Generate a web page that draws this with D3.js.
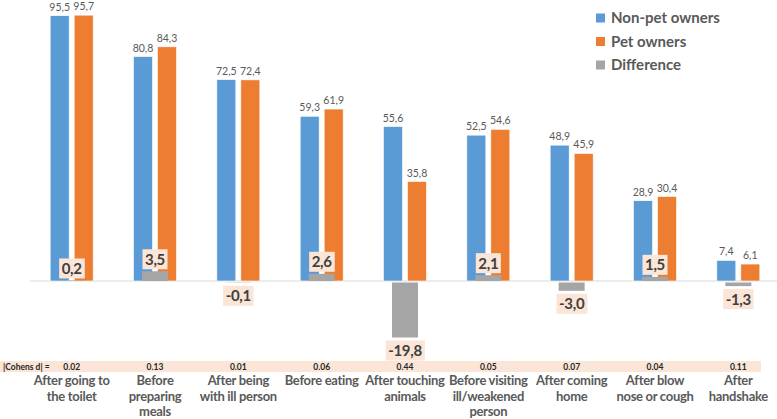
<!DOCTYPE html>
<html>
<head>
<meta charset="utf-8">
<script src="https://cdn.jsdelivr.net/npm/d3@7"></script>
<style>
  body { margin: 0; background: #fff; }
  svg { display: block; }
</style>
</head>
<body>
<svg width="777" height="419"></svg>
<script>
var categories = [
    ["After going to", "the toilet"],
    ["Before", "preparing", "meals"],
    ["After being", "with ill person"],
    ["Before eating"],
    ["After touching", "animals"],
    ["Before visiting", "ill/weakened", "person"],
    ["After coming", "home"],
    ["After blow", "nose or cough"],
    ["After", "handshake"]
];
var nonPet = [95.5, 80.8, 72.5, 59.3, 55.6, 52.5, 48.9, 28.9, 7.4];
var pet = [95.7, 84.3, 72.4, 61.9, 35.8, 54.6, 45.9, 30.4, 6.1];
var difference = [0.2, 3.5, -0.1, 2.6, -19.8, 2.1, -3.0, 1.5, -1.3];
var cohensD = ["0.02", "0.13", "0.01", "0.06", "0.44", "0.05", "0.07", "0.04", "0.11"];
var seriesNames = ["Non-pet owners", "Pet owners", "Difference"];
var colors = ["#5b9bd5", "#ed7d31", "#a5a5a5"];

var font = "Lato, 'Open Sans', sans-serif";
var svg = d3.select("svg");
var idx = d3.range(categories.length);

var x = d3.scaleBand().domain(idx).range([30, 780]);
var x1 = d3.scaleBand().domain([0, 1]).range([-21.5, 21.5]).paddingInner(0.2083);
var y = d3.scaleLinear().domain([0, 100]).range([281, 3.2]);
var fmt = function (v) { return d3.format(".1f")(v).replace(".", ",").replace("−", "-"); };
var cx = function (i) { return x(i) + x.bandwidth() / 2; };

// zero line
svg.append("line")
    .attr("x1", 30).attr("x2", 777)
    .attr("y1", y(0)).attr("y2", y(0))
    .attr("stroke", "#d9d9d9").attr("stroke-width", 1);

// blue + orange bars
[nonPet, pet].forEach(function (vals, s) {
    var g = svg.append("g");
    g.selectAll("rect").data(vals).enter().append("rect")
        .attr("x", function (d, i) { return cx(i) + x1(s); })
        .attr("width", x1.bandwidth())
        .attr("y", function (d) { return y(d); })
        .attr("height", function (d) { return y(0) - y(d); })
        .attr("fill", colors[s])
        .attr("stroke", "#fff").attr("stroke-width", 0.6);
    g.selectAll("text").data(vals).enter().append("text")
        .attr("x", function (d, i) { return cx(i) + x1(s) + x1.bandwidth() / 2; })
        .attr("y", function (d) { return y(d) - 5; })
        .attr("text-anchor", "middle")
        .attr("font-family", font).attr("font-size", 10.5)
        .attr("fill", "#595959")
        .text(function (d) { return fmt(d); });
});

// difference bars
var diffW = 26;
svg.append("g").selectAll("rect").data(difference).enter().append("rect")
    .attr("x", function (d, i) { return cx(i) - diffW / 2; })
    .attr("width", diffW)
    .attr("y", function (d) { return d >= 0 ? y(d) : y(0) + 1.5; })
    .attr("height", function (d) { return Math.abs(y(0) - y(d)); })
    .attr("fill", colors[2]);

// difference labels with peach box
var dl = svg.append("g").selectAll("g").data(difference).enter().append("g")
    .attr("transform", function (d, i) {
        var cy = d >= 0 ? y(d) - 12 : y(0) + 1.5 + (y(d) - y(0)) + 13;
        return "translate(" + cx(i) + "," + cy + ")";
    });
dl.append("text")
    .attr("text-anchor", "middle").attr("dy", "0.36em")
    .attr("font-family", font).attr("font-size", 15).attr("font-weight", 700)
    .attr("letter-spacing", -0.3)
    .attr("fill", "#404040")
    .text(function (d) { return fmt(d); })
    .each(function () {
        var bb = this.getBBox();
        d3.select(this.parentNode).insert("rect", "text")
            .attr("x", bb.x - 2.5).attr("y", -10)
            .attr("width", bb.width + 5).attr("height", 20)
            .attr("fill", "#fbe5d6");
    });

// Cohen's d row
svg.append("rect")
    .attr("x", 0).attr("y", 361).attr("width", 761).attr("height", 11)
    .attr("fill", "#fbe5d6");
svg.append("text")
    .attr("x", 3).attr("y", 370)
    .attr("font-family", font).attr("font-size", 8.5).attr("font-weight", 700)
    .attr("fill", "#262626")
    .text("|Cohens d| =");
svg.append("g").selectAll("text").data(cohensD).enter().append("text")
    .attr("x", function (d, i) { return cx(i); })
    .attr("y", 370)
    .attr("text-anchor", "middle")
    .attr("font-family", font).attr("font-size", 8.5).attr("font-weight", 700)
    .attr("fill", "#262626")
    .text(function (d) { return d; });

// category labels
var cl = svg.append("g").selectAll("text").data(categories).enter().append("text")
    .attr("x", function (d, i) { return cx(i); })
    .attr("y", 385)
    .attr("text-anchor", "middle")
    .attr("font-family", font).attr("font-size", 13).attr("font-weight", 700)
    .attr("letter-spacing", -0.3)
    .attr("fill", "#595959");
cl.selectAll("tspan").data(function (d) { return d; }).enter().append("tspan")
    .attr("x", function () { return d3.select(this.parentNode).attr("x"); })
    .attr("dy", function (d, j) { return j === 0 ? 0 : 15.5; })
    .text(function (d) { return d; });

// legend
var lg = svg.append("g").selectAll("g").data(seriesNames).enter().append("g")
    .attr("transform", function (d, i) { return "translate(596," + (18 + i * 23.5) + ")"; });
lg.append("rect")
    .attr("x", 0).attr("y", -4.5).attr("width", 9).attr("height", 9)
    .attr("fill", function (d, i) { return colors[i]; });
lg.append("text")
    .attr("x", 15).attr("dy", "0.36em")
    .attr("font-family", font).attr("font-size", 15).attr("font-weight", 700)
    .attr("fill", "#595959")
    .text(function (d) { return d; });
</script>
</body>
</html>
